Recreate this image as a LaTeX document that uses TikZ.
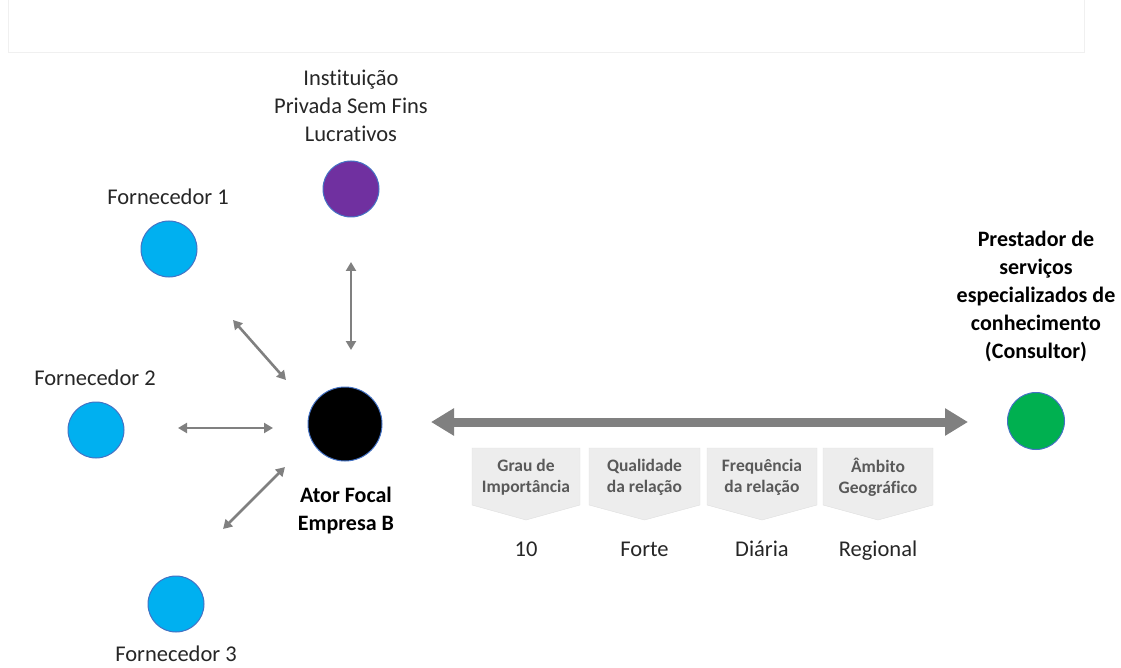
\documentclass[tikz,border=0pt]{standalone}
\usepackage{fontspec}
\setmainfont{Carlito}[Ligatures=NoCommon]
\usetikzlibrary{arrows.meta}
\definecolor{cblue}{HTML}{00B0F0}
\definecolor{cpurple}{HTML}{7030A0}
\definecolor{cgreen}{HTML}{00B050}
\definecolor{cedge}{HTML}{4472C4}
\definecolor{arrowgray}{HTML}{808080}
\definecolor{chevfill}{HTML}{EDEDED}
\definecolor{chevtext}{HTML}{595959}
\definecolor{txt}{HTML}{262626}
\tikzset{
  actor/.style={circle, draw=cedge, line width=1pt, minimum size=#1, inner sep=0pt},
  lbl/.style={align=center, text=txt, font=\fontsize{22.5}{28}\selectfont, inner sep=0pt},
  blbl/.style={align=center, text=black, font=\fontsize{22}{28}\selectfont\bfseries, inner sep=0pt},
  chevlbl/.style={align=center, text=chevtext, font=\fontsize{17.5}{21}\selectfont\bfseries, inner sep=0pt},
  vallbl/.style={text=txt, font=\fontsize{22.5}{24}\selectfont, inner sep=0pt, anchor=base},
  small/.style={draw=arrowgray, line width=2.6pt, {Triangle[length=9pt,width=10pt]}-{Triangle[length=9pt,width=10pt]}},
  chev/.style={fill=chevfill, draw=gray!25, line width=0.4pt}
}
\begin{document}
\begin{tikzpicture}[x=1pt,y=-1pt]
\useasboundingbox (0,0) rectangle (1121,668);
% top bar
\draw[gray!12, line width=1pt] (8,0) -- (8,53) -- (1084,53) -- (1084,0);
% actors
\node[actor=56pt, fill=cblue] (f1) at (169,249) {};
\node[actor=56pt, fill=cblue] (f2) at (96,430) {};
\node[actor=56pt, fill=cblue] (f3) at (176,604) {};
\node[actor=56pt, fill=cpurple] (ip) at (351,189) {};
\node[actor=74pt, fill=black] (af) at (345,424) {};
\node[actor=57pt, fill=cgreen] (ps) at (1036,421) {};
% labels
\node[lbl] (tf1) at (168,197) {Fornecedor 1};
\node[lbl] (tf2) at (95,378) {Fornecedor 2};
\node[lbl] (tf3) at (176,654) {Fornecedor 3};
\node[lbl] (tip) at (351,106) {Instituição\\Privada Sem Fins\\Lucrativos};
\node[blbl] (taf) at (346,511) {Ator Focal\\Empresa B};
\node[blbl] (tps) at (1036,296) {Prestador de\\serviços\\especializados de\\conhecimento\\(Consultor)};
% small arrows
\coordinate (a1s) at (233,320); \coordinate (a1e) at (286,380);
\coordinate (a2s) at (178,428); \coordinate (a2e) at (273,428);
\coordinate (a3s) at (223,529); \coordinate (a3e) at (285,467);
\coordinate (a4s) at (351,262); \coordinate (a4e) at (351,350);
\draw[small] (a1s) -- (a1e);
\draw[small] (a2s) -- (a2e);
\draw[small] (a3s) -- (a3e);
\draw[small] (a4s) -- (a4e);
% big arrow
\coordinate (bs) at (431,422); \coordinate (be) at (968,422);
\draw[draw=arrowgray, line width=9pt, {Triangle[length=23pt,width=26pt]}-{Triangle[length=23pt,width=26pt]}] (bs) -- (be);
% chevrons
\foreach \n/\xa/\xb/\t/\v in {c1/472/580/{Grau de\\Importância}/10, c2/589/700/{Qualidade\\da relação}/Forte, c3/707/817/{Frequência\\da relação}/Diária, c4/823/933/{Âmbito\\Geográfico}/Regional}{
  \path[chev] (\xa,448) -- (\xb,448) -- (\xb,505) -- ({(\xa+\xb)/2},520) -- (\xa,505) -- cycle;
  \node[chevlbl] (\n) at ({(\xa+\xb)/2},477) {\t};
  \node[vallbl] (\n v) at ({(\xa+\xb)/2},556) {\v};
}
\end{tikzpicture}
\end{document}
